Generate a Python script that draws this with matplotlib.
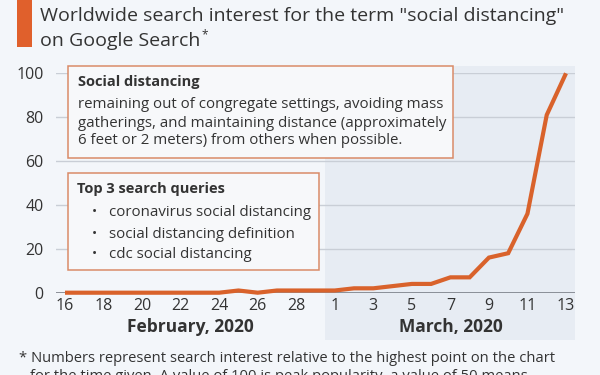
import matplotlib
matplotlib.use("Agg")
import matplotlib.pyplot as plt
from matplotlib.patches import Rectangle
from matplotlib.transforms import blended_transform_factory

plt.rcParams['font.family'] = ['Open Sans', 'DejaVu Sans']

### data
feb_days = list(range(16, 30))
mar_days = list(range(1, 14))
interest = [0, 0, 0, 0, 0, 0, 0, 0, 0, 1, 0, 1, 1, 1,
            1, 2, 2, 3, 4, 4, 7, 7, 16, 18, 36, 81, 100]
day_labels = [str(d) for d in feb_days + mar_days]
y_ticks = [0, 20, 40, 60, 80, 100]

title_1 = 'Worldwide search interest for the term "social distancing"'
title_2 = 'on Google Search'
box1_head = 'Social distancing'
box1_lines = ['remaining out of congregate settings, avoiding mass',
              'gatherings, and maintaining distance (approximately',
              '6 feet or 2 meters) from others when possible.']
box2_head = 'Top 3 search queries'
queries = ['coronavirus social distancing', 'social distancing definition',
           'cdc social distancing']
months = ['February, 2020', 'March, 2020']
note = ['* Numbers represent search interest relative to the highest point on the chart',
        'for the time given. A value of 100 is peak popularity, a value of 50 means']

BG = '#f3f6fa'
SHADE = '#e7ecf3'
ORANGE = '#d9622b'
BOX_EDGE = '#d98b68'
TXT = '#333333'

W, H = 600, 375
fig = plt.figure(figsize=(6, 3.75), dpi=100, facecolor=BG)

### pixel -> figure fraction helpers
def fx(px):
    return px / W
def fy(py):
    return 1 - py / H

ax_l, ax_r, ax_t, ax_b = 56, 575, 73.3, 292.7
ax = fig.add_axes([fx(ax_l), fy(ax_b), fx(ax_r - ax_l), (ax_b - ax_t) / H])
ax.set_facecolor('none')

x = list(range(len(interest)))
n_feb = len(feb_days)
ax.set_xlim(-0.467, len(x) - 1 + 0.467)
ax.set_ylim(0, 100)

# March shading, goes below the axis to cover the month label
ax.axvspan(n_feb - 0.5, len(x) - 1 + 0.467, ymin=(ax_b - 340) / (ax_b - ax_t),
           ymax=(ax_b - 66) / (ax_b - ax_t), color=SHADE, lw=0, zorder=0,
           clip_on=False)

for yt in y_ticks[1:]:
    ax.axhline(yt, color='#c9ced6', lw=1, zorder=1)
ax.axhline(0, color='#7a7f87', lw=1.2, zorder=2)

ax.plot(x, interest, color=ORANGE, lw=3, solid_joinstyle='miter',
        solid_capstyle='butt', zorder=3, clip_on=False)

for s in ax.spines.values():
    s.set_visible(False)
ax.set_yticks(y_ticks)
ax.set_yticklabels([str(v) for v in y_ticks], fontsize=11.5, color=TXT)
ax.tick_params(axis='y', length=0, pad=9)
ax.set_xticks(x[::2])
ax.set_xticklabels(day_labels[::2], fontsize=11.5, color=TXT)
ax.tick_params(axis='x', length=0, pad=4)

# month labels
mtr = blended_transform_factory(ax.transData, fig.transFigure)
ax.text((n_feb - 1) / 2, fy(327), months[0], transform=mtr,
        fontsize=12.5, fontweight='bold', color=TXT, ha='center', va='center')
ax.text((n_feb + len(x) - 1) / 2, fy(327), months[1], transform=mtr,
        fontsize=12.5, fontweight='bold', color=TXT, ha='center', va='center')

### title
fig.add_artist(Rectangle((fx(17), fy(47)), fx(15), 47 / H, transform=fig.transFigure,
                         color='#e0602c', lw=0))
fig.text(fx(40), fy(16), title_1, fontsize=14, color=TXT, va='center')
t2 = fig.text(fx(40), fy(41), title_2, fontsize=14, color=TXT, va='center')
fig.canvas.draw()
bb = t2.get_window_extent(fig.canvas.get_renderer())
fig.text(fx(bb.x1 + 1), fy(35), '*', fontsize=8.5, color=TXT, va='center')

### annotation boxes
def box(x0, y0, x1, y1):
    fig.add_artist(Rectangle((fx(x0), fy(y1)), fx(x1 - x0), (y1 - y0) / H,
                             transform=fig.transFigure, facecolor='#f7f8fa',
                             edgecolor=BOX_EDGE, lw=1.1, zorder=5))

box(67.5, 66, 453, 158)
fig.text(fx(78), fy(82), box1_head, fontsize=10.5, fontweight='bold', color=TXT,
         va='center', zorder=6)
for i, line in enumerate(box1_lines):
    fig.text(fx(78), fy(105 + 18 * i), line, fontsize=10.8, color=TXT, va='center', zorder=6)

box(67.5, 173, 319, 270)
fig.text(fx(77), fy(189), box2_head, fontsize=10.5, fontweight='bold', color=TXT,
         va='center', zorder=6)
for i, q in enumerate(queries):
    fig.text(fx(92), fy(213 + 21 * i), '\u2022', fontsize=10, color=TXT, va='center', zorder=6)
    fig.text(fx(109), fy(213 + 21 * i), q, fontsize=10.8, color=TXT, va='center', zorder=6)

### footnote (second line runs off the bottom like the original)
fig.text(fx(19), fy(358), note[0], fontsize=10.6, color=TXT, va='center')
fig.text(fx(30), fy(376), note[1], fontsize=10.6, color=TXT, va='center')

fig.savefig('out.png', dpi=100, facecolor=BG)
